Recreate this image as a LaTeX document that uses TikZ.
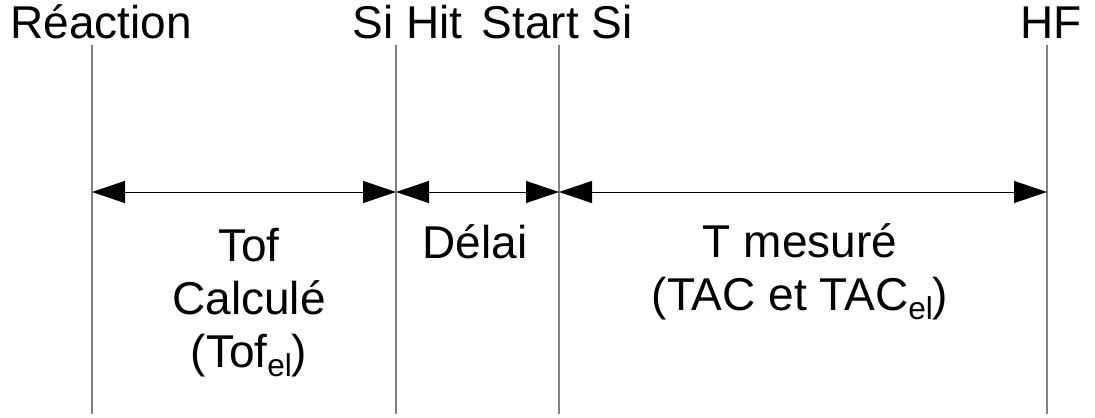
\documentclass[tikz,border=0pt]{standalone}
\usepackage{fontspec}
\setmainfont{Liberation Sans}
\usetikzlibrary{positioning,arrows.meta}
\newcommand{\elsub}[1]{\raisebox{-4.5pt}{\fontsize{15.8}{16}\selectfont #1}}

\begin{document}
\begin{tikzpicture}[x=0.5pt,y=-0.5pt]
  \tikzset{
    evt/.style={draw=black!50,line width=0.7pt},
    span/.style={{Triangle[length=16.5pt,width=11pt]}-{Triangle[length=16.5pt,width=11pt]},
                 line width=0.5pt,black},
    lbl/.style={font=\fontsize{23}{26.5}\selectfont,inner sep=0pt},
    txt/.style={lbl,align=center}}
  \useasboundingbox (0,0) rectangle (1095,417);
  \foreach \x/\n in {92/r,396/h,559/s,1047/f}{
    \coordinate (top\n) at (\x,45);
    \coordinate (mid\n) at (\x,192);
    \coordinate (bot\n) at (\x,414);
    \draw[evt] (top\n)--(bot\n);}
  \node[lbl,anchor=base west] (reac) at (10,39) {Réaction};
  \node[lbl,anchor=base west] (hit) at (352,39) {Si Hit};
  \node[lbl,anchor=base east] (start) at (633,39) {Start Si};
  \node[lbl,anchor=base east] (hf) at (1082,39) {HF};
  \draw[span] (midr)--(midh);
  \draw[span] (midh)--(mids);
  \draw[span] (mids)--(midf);
  % base of a multi-line node = last line
  \node[txt,anchor=base] (tof) at (249,367) {Tof\\Calculé\\(Tof\elsub{el})};
  \node[lbl,anchor=base] (delai) at (475,258) {Délai};
  \node[txt,anchor=base] (tmes) at (800,310) {T mesuré\\(TAC et TAC\elsub{el})};
\end{tikzpicture}
\end{document}
